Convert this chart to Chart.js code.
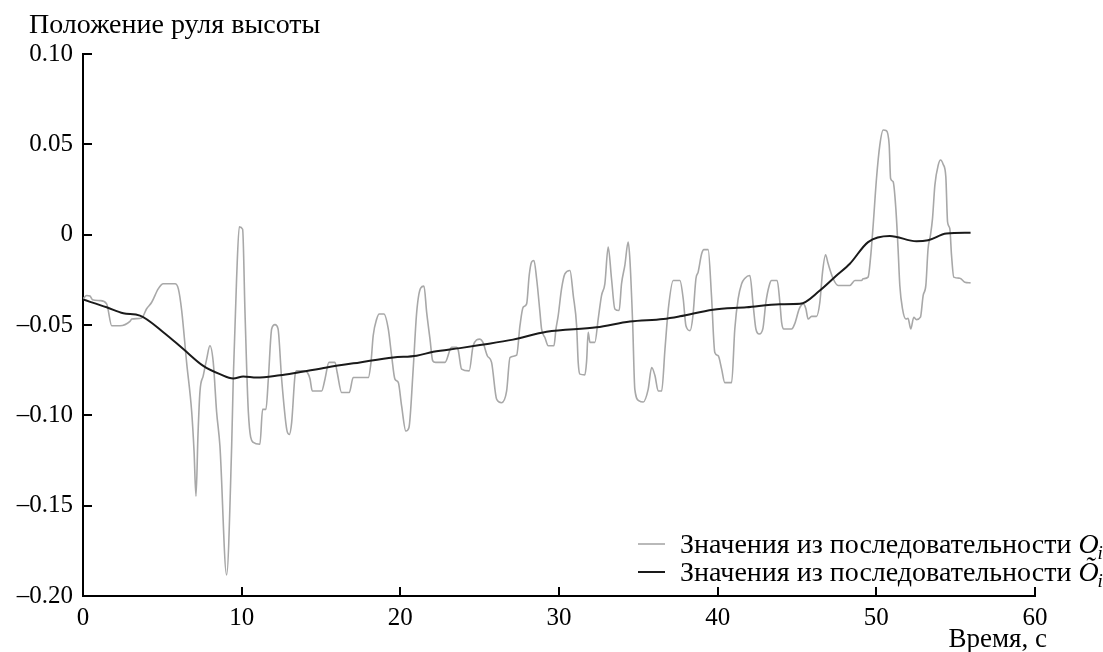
<!DOCTYPE html>
<html><head><meta charset="utf-8">
<script src="https://cdn.jsdelivr.net/npm/chart.js@4/dist/chart.umd.min.js"></script>
<style>html,body{margin:0;padding:0;background:#fff}#wrap{width:1103px;height:652px}</style>
</head><body><div id="wrap"><canvas id="c" width="1103" height="652"></canvas></div>
<script>
// Series O_i (grey, raw values)
const timeSeq = [0,0.23,0.44,0.60,1.07,1.49,1.81,2.33,2.96,3.07,3.70,4.01,4.33,4.74,5.06,5.80,6.01,6.22,6.53,6.85,7.00,7.12,7.25,7.37,7.58,7.79,8.00,8.21,8.42,8.63,9.05,9.37,9.47,9.68,9.85,10.06,10.21,10.42,10.73,11.15,11.32,11.53,11.68,11.89,12.10,12.29,12.52,12.84,13.00,13.15,13.36,13.47,13.99,14.30,14.45,15.04,15.25,15.50,15.88,16.02,16.30,16.78,17.03,17.98,18.15,18.29,18.51,18.67,18.97,19.24,19.45,19.66,19.87,20.08,20.35,20.54,20.81,21.03,21.28,21.49,21.66,21.87,22.04,22.22,22.81,23.23,23.55,23.65,23.86,24.34,24.59,25.02,25.20,25.48,25.75,26.07,26.38,26.70,26.91,27.33,27.54,27.74,27.96,28.12,28.27,28.42,28.59,28.80,28.90,29.11,29.32,29.68,29.81,29.95,30.16,30.37,30.69,30.90,31.11,31.21,31.32,31.63,31.74,31.84,31.95,32.26,32.47,32.68,32.89,33.10,33.31,33.52,33.79,33.94,34.15,34.36,34.47,34.64,34.78,35.05,35.31,35.62,35.84,36.05,36.25,36.47,36.68,36.89,37.20,37.62,37.83,38.00,38.26,38.44,38.63,38.77,38.99,39.13,39.40,39.61,39.82,40.03,40.25,40.45,40.88,41.08,41.29,41.51,41.72,42.03,42.24,42.41,42.62,42.85,43.04,43.25,43.40,43.75,43.92,44.03,44.17,44.66,44.87,45.14,45.39,45.56,45.70,45.92,46.23,46.44,46.61,46.80,46.96,47.28,47.59,48.33,48.65,49.07,49.17,49.48,49.63,49.80,50.01,50.22,50.43,50.64,50.81,50.90,51.06,51.23,51.37,51.48,51.65,51.86,52.00,52.17,52.36,52.53,52.78,52.95,53.12,53.26,53.41,53.54,53.69,53.90,54.05,54.21,54.38,54.49,54.63,54.74,54.88,55.26,55.58,55.94];
const valSeq = [-0.0356,-0.0337,-0.0340,-0.0360,-0.0365,-0.0383,-0.0504,-0.0504,-0.0480,-0.0467,-0.0461,-0.0410,-0.0374,-0.0300,-0.0272,-0.0272,-0.0300,-0.0420,-0.0707,-0.0980,-0.1200,-0.1448,-0.1100,-0.0870,-0.0780,-0.0690,-0.0615,-0.0707,-0.0980,-0.1170,-0.1883,-0.1170,-0.0800,-0.0244,0.0043,0.0030,-0.0430,-0.0980,-0.1150,-0.1160,-0.0967,-0.0967,-0.0800,-0.0522,-0.0498,-0.0520,-0.0800,-0.1078,-0.1106,-0.1040,-0.0781,-0.0754,-0.0754,-0.0796,-0.0865,-0.0865,-0.0800,-0.0707,-0.0707,-0.0763,-0.0874,-0.0874,-0.0791,-0.0791,-0.0707,-0.0559,-0.0467,-0.0439,-0.0439,-0.0522,-0.0670,-0.0800,-0.0818,-0.0948,-0.1087,-0.1069,-0.0744,-0.0430,-0.0296,-0.0285,-0.0430,-0.0578,-0.0698,-0.0707,-0.0707,-0.0624,-0.0624,-0.0640,-0.0744,-0.0754,-0.0615,-0.0578,-0.0595,-0.0670,-0.0707,-0.0911,-0.0930,-0.0865,-0.0680,-0.0667,-0.0504,-0.0402,-0.0383,-0.0226,-0.0152,-0.0143,-0.0244,-0.0430,-0.0522,-0.0569,-0.0615,-0.0615,-0.0522,-0.0448,-0.0300,-0.0217,-0.0198,-0.0337,-0.0504,-0.0707,-0.0772,-0.0776,-0.0700,-0.0540,-0.0596,-0.0596,-0.0467,-0.0337,-0.0272,-0.0069,-0.0244,-0.0411,-0.0420,-0.0272,-0.0170,-0.0041,-0.0140,-0.0485,-0.0856,-0.0920,-0.0926,-0.0856,-0.0735,-0.0781,-0.0865,-0.0865,-0.0633,-0.0411,-0.0254,-0.0254,-0.0356,-0.0504,-0.0531,-0.0450,-0.0244,-0.0207,-0.0106,-0.0083,-0.0083,-0.0337,-0.0652,-0.0670,-0.0744,-0.0819,-0.0819,-0.0522,-0.0356,-0.0272,-0.0241,-0.0226,-0.0393,-0.0522,-0.0550,-0.0520,-0.0374,-0.0281,-0.0254,-0.0254,-0.0374,-0.0485,-0.0522,-0.0522,-0.0490,-0.0411,-0.0383,-0.0410,-0.0467,-0.0452,-0.0452,-0.0374,-0.0207,-0.0111,-0.0160,-0.0244,-0.0281,-0.0281,-0.0254,-0.0254,-0.0244,-0.0235,-0.0133,0.0052,0.0311,0.0496,0.0579,0.0575,0.0496,0.0311,0.0293,0.0144,-0.0078,-0.0281,-0.0411,-0.0467,-0.0463,-0.0522,-0.0457,-0.0470,-0.0457,-0.0337,-0.0281,-0.0078,-0.0004,0.0089,0.0274,0.0385,0.0413,0.0390,0.0320,0.0070,0.0033,-0.0115,-0.0235,-0.0241,-0.0263,-0.0267];
// Series Õ_i (black, smoothed values)
const timeSmooth = [0,1.49,2.54,3.59,5.06,6.32,7.58,8.63,9.47,10.10,10.94,12.41,13.26,15.36,17.45,19.55,21.03,22.08,23.76,25.02,27.10,29.22,32.37,34.47,36.57,37.62,39.70,41.82,43.92,45.19,46.44,47.49,48.33,49.48,50.85,52.53,53.26,54.42,55.94];
const valSmooth = [-0.0359,-0.0402,-0.0435,-0.0448,-0.0540,-0.0633,-0.0726,-0.0772,-0.0796,-0.0785,-0.0791,-0.0778,-0.0767,-0.0735,-0.0707,-0.0680,-0.0670,-0.0648,-0.0628,-0.0611,-0.0581,-0.0537,-0.0513,-0.0481,-0.0467,-0.0452,-0.0415,-0.0402,-0.0385,-0.0383,-0.0309,-0.0226,-0.0161,-0.0041,-0.0007,-0.0037,-0.0031,0.0006,0.0011];
const xTicks = [0,10,20,30,40,50,60];
const yTicks = [-0.20,-0.15,-0.10,-0.05,0,0.05,0.10];
const yTickLabels = ['\u20130.20','\u20130.15','\u20130.10','\u20130.05','0','0.05','0.10'];
const yTitle = 'Положение руля высоты';
const xTitle = 'Время, с';
const legendText = 'Значения из последовательности ';
const legendSymbols = ['O', '\u00D5'];

const FONT = '"Liberation Serif", "Times New Roman", serif';

const decor = {
  id: 'decor',
  afterDraw(chart) {
    const ctx = chart.ctx, a = chart.chartArea, xs = chart.scales.x, ys = chart.scales.y;
    ctx.save();
    ctx.strokeStyle = '#000'; ctx.lineWidth = 2;
    xs.ticks.forEach(t => {
      const px = Math.round(xs.getPixelForValue(t.value));
      if (t.value === 0) return;
      ctx.beginPath(); ctx.moveTo(px, a.bottom); ctx.lineTo(px, a.bottom - 9); ctx.stroke();
    });
    ys.ticks.forEach(t => {
      const py = Math.round(ys.getPixelForValue(t.value));
      if (Math.abs(t.value - yTicks[0]) < 1e-9) return;
      ctx.beginPath(); ctx.moveTo(a.left, py); ctx.lineTo(a.left + 9, py); ctx.stroke();
    });
    ctx.fillStyle = '#000';
    ctx.textBaseline = 'alphabetic';
    ctx.textAlign = 'left';
    ctx.font = '28px ' + FONT;
    ctx.fillText(yTitle, 29, 33);
    ctx.textAlign = 'right';
    ctx.font = '27px ' + FONT;
    ctx.fillText(xTitle, 1047, 647);
    // legend
    const rows = [
      {y: 553, color: '#a8a8a8', w: 1.6},
      {y: 581, color: '#1a1a1a', w: 2}
    ];
    ctx.textAlign = 'left';
    rows.forEach((r, i) => {
      ctx.strokeStyle = r.color; ctx.lineWidth = r.w;
      ctx.beginPath(); ctx.moveTo(638, r.y - 9); ctx.lineTo(665, r.y - 9); ctx.stroke();
      ctx.font = '28px ' + FONT;
      ctx.fillStyle = '#000';
      ctx.fillText(legendText, 680, r.y);
      const w = ctx.measureText(legendText).width;
      ctx.font = 'italic 28px ' + FONT;
      ctx.fillText(legendSymbols[i], 680 + w, r.y);
      const w2 = ctx.measureText(legendSymbols[i]).width;
      ctx.font = 'italic 19px ' + FONT;
      ctx.fillText('i', 680 + w + w2 - 1, r.y + 6);
    });
    ctx.restore();
  }
};

new Chart(document.getElementById('c'), {
  type: 'line',
  data: {
    datasets: [
      {
        label: 'Õi',
        data: timeSmooth.map((t, i) => ({x: t, y: valSmooth[i]})),
        borderColor: '#1a1a1a', borderWidth: 2, pointRadius: 0,
        cubicInterpolationMode: 'monotone', order: 0, fill: false
      },
      {
        label: 'Oi',
        data: timeSeq.map((t, i) => ({x: t, y: valSeq[i]})),
        borderColor: '#a8a8a8', borderWidth: 1.6, pointRadius: 0,
        cubicInterpolationMode: 'monotone', order: 1, fill: false
      }
    ]
  },
  options: {
    responsive: false, animation: false, devicePixelRatio: 1,
    layout: {padding: {left: 0, top: 54, right: 68, bottom: 0}},
    plugins: {legend: {display: false}, tooltip: {enabled: false}},
    scales: {
      x: {
        type: 'linear', min: 0, max: 60,
        afterBuildTicks: s => { s.ticks = xTicks.map(v => ({value: v})); },
        afterFit: s => { s.height = 56; },
        grid: {display: false, drawTicks: false},
        border: {display: true, color: '#000', width: 2},
        ticks: {font: {family: FONT, size: 25}, color: '#000', padding: 7, maxRotation: 0}
      },
      y: {
        type: 'linear', min: -0.2, max: 0.1,
        afterBuildTicks: s => { s.ticks = yTicks.map(v => ({value: v})); },
        afterFit: s => { s.width = 83; },
        grid: {display: false, drawTicks: false},
        border: {display: true, color: '#000', width: 2},
        ticks: {
          font: {family: FONT, size: 25}, color: '#000', padding: 10,
          callback: (v) => {
            const i = yTicks.findIndex(t => Math.abs(t - v) < 1e-9);
            return i >= 0 ? yTickLabels[i] : '';
          }
        }
      }
    }
  },
  plugins: [decor]
});
</script>
</body></html>
